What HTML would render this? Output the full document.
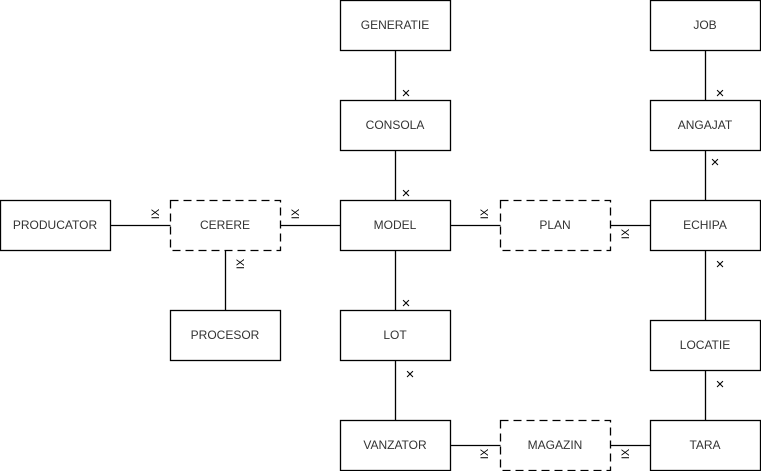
<!DOCTYPE html>
<html><head><style>body{margin:0;background:#fff}</style></head><body>
<svg width="761" height="471" xmlns="http://www.w3.org/2000/svg" font-family="Liberation Sans, sans-serif" font-size="12">
<g stroke="#000" stroke-width="1.3" fill="none">
<line x1="395.5" y1="50" x2="395.5" y2="420"/>
<line x1="705.5" y1="50" x2="705.5" y2="420"/>
<line x1="110" y1="225.5" x2="650" y2="225.5"/>
<line x1="225.5" y1="250" x2="225.5" y2="310"/>
<line x1="450" y1="445.5" x2="650" y2="445.5"/>
</g>
<g fill="#fff" stroke="#000" stroke-width="1.3">
<rect x="340.5" y="0.5" width="110" height="50"/>
<rect x="340.5" y="100.5" width="110" height="50"/>
<rect x="340.5" y="200.5" width="110" height="50"/>
<rect x="340.5" y="310.5" width="110" height="50"/>
<rect x="340.5" y="420.5" width="110" height="50"/>
<rect x="0.5" y="200.5" width="110" height="50"/>
<rect x="170.5" y="310.5" width="110" height="50"/>
<rect x="650.5" y="0.5" width="110" height="50"/>
<rect x="650.5" y="100.5" width="110" height="50"/>
<rect x="650.5" y="200.5" width="110" height="50"/>
<rect x="650.5" y="320.5" width="110" height="50"/>
<rect x="650.5" y="420.5" width="110" height="50"/>
<rect x="170.5" y="200.5" width="110" height="50" stroke-dasharray="8,5"/>
<rect x="500.5" y="200.5" width="110" height="50" stroke-dasharray="8,5"/>
<rect x="500.5" y="420.5" width="110" height="50" stroke-dasharray="8,5"/>
</g>
<g fill="#333" text-anchor="middle">
<text x="395" y="29">GENERATIE</text>
<text x="395" y="129">CONSOLA</text>
<text x="395" y="229">MODEL</text>
<text x="395" y="339">LOT</text>
<text x="395" y="449">VANZATOR</text>
<text x="55" y="229">PRODUCATOR</text>
<text x="225" y="339">PROCESOR</text>
<text x="225" y="229">CERERE</text>
<text x="555" y="229">PLAN</text>
<text x="555" y="449">MAGAZIN</text>
<text x="705" y="29">JOB</text>
<text x="705" y="129">ANGAJAT</text>
<text x="705" y="229">ECHIPA</text>
<text x="705" y="349">LOCATIE</text>
<text x="705" y="449">TARA</text>
</g>
<g font-size="15" fill="#000" text-anchor="middle">
<text x="406" y="98">×</text>
<text x="406" y="198">×</text>
<text x="406" y="308">×</text>
<text x="410" y="379">×</text>
<text x="720" y="98">×</text>
<text x="715" y="167">×</text>
<text x="720" y="269">×</text>
<text x="720" y="389">×</text>
</g>
<g font-size="11" fill="#000" text-anchor="middle">
<text transform="translate(159,214) rotate(-90)">IX</text>
<text transform="translate(299,214) rotate(-90)">IX</text>
<text transform="translate(244,264) rotate(-90)">IX</text>
<text transform="translate(488,214) rotate(-90)">IX</text>
<text transform="translate(629,234) rotate(-90)">IX</text>
<text transform="translate(488,454) rotate(-90)">IX</text>
<text transform="translate(629,454) rotate(-90)">IX</text>
</g>
</svg>
</body></html>
